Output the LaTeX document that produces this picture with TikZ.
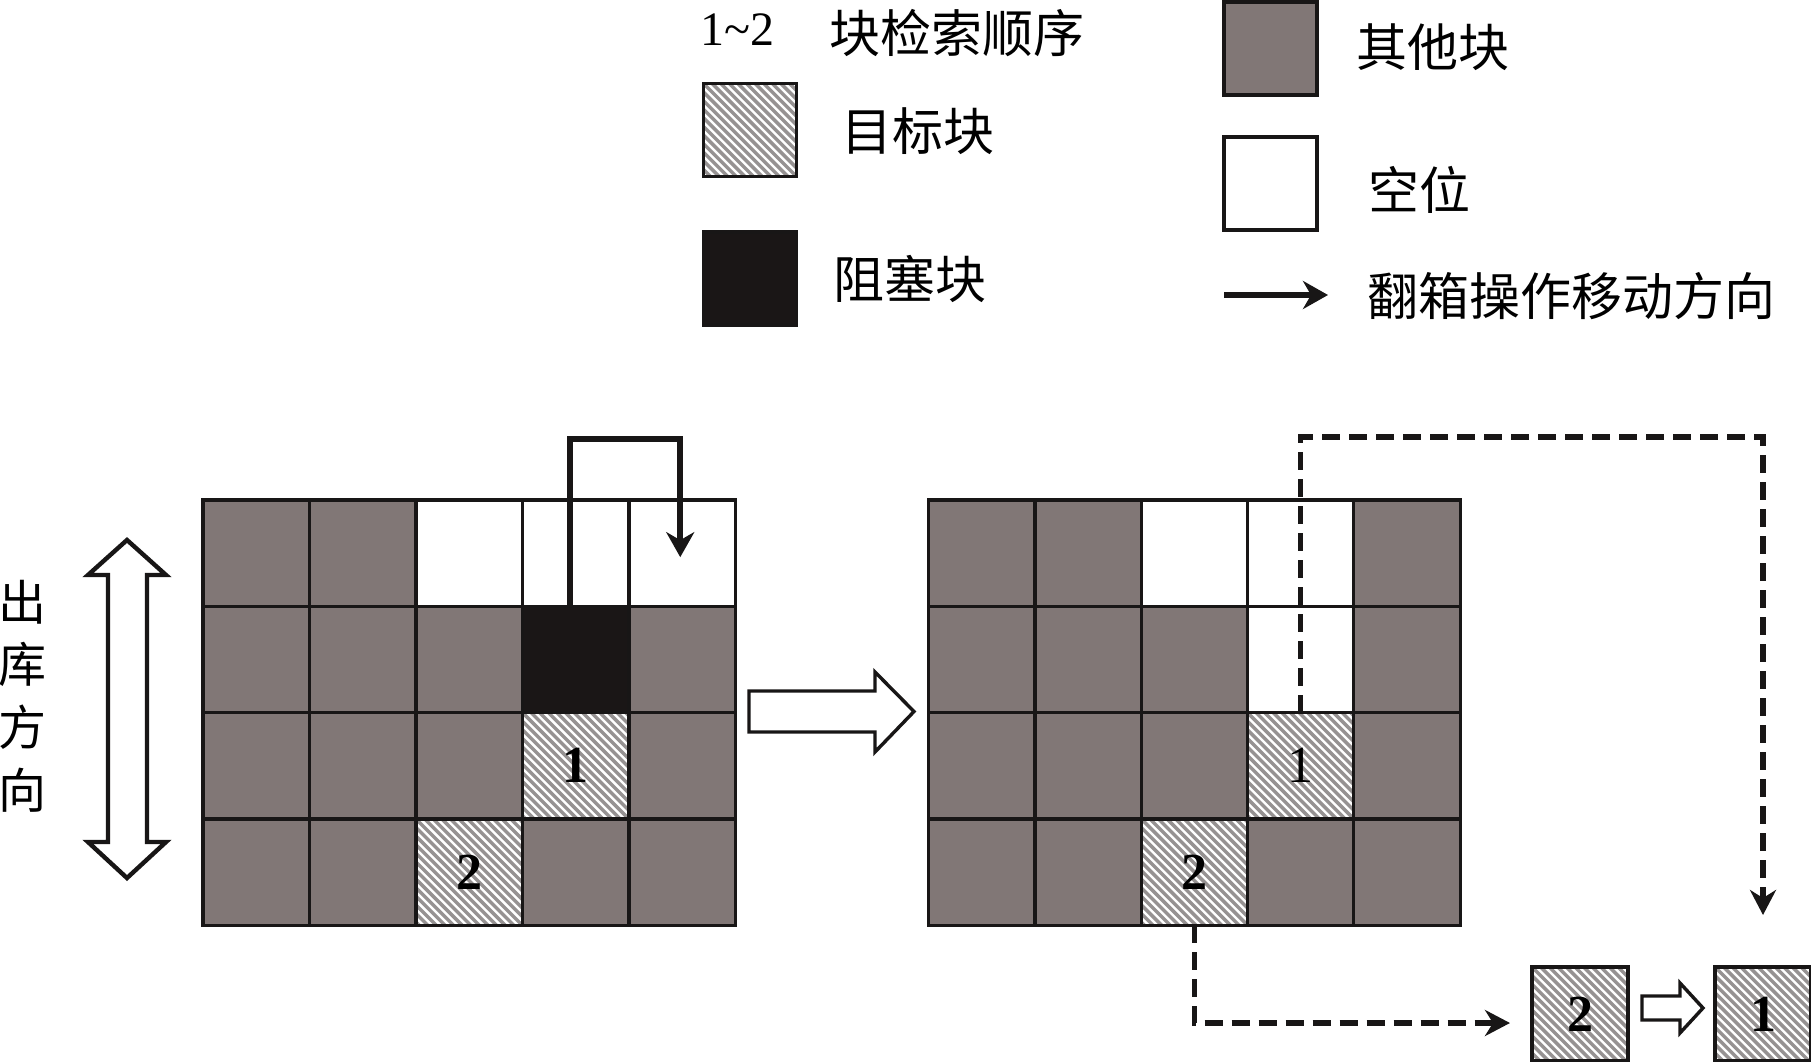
\documentclass[tikz,border=0pt]{standalone}
\usepackage{fontspec}
\setmainfont{Liberation Serif}
\newfontfamily\cjk{Noto Sans CJK SC}
\usetikzlibrary{arrows.meta,calc}
\definecolor{othergray}{RGB}{129,119,118}
\definecolor{blockblack}{RGB}{26,22,22}
\definecolor{linec}{RGB}{24,22,22}
\definecolor{hatchgray}{RGB}{150,146,146}
\begin{document}
\begin{tikzpicture}[x=0.5pt,y=-0.5pt,
 hatch/.style={path picture={\foreach \i in {-14,...,14}{\draw[hatchgray,line width=1.7pt] ([xshift=\i*4.3pt]path picture bounding box.north west) -- ++(70pt,-70pt);}}},
 cellbase/.style={draw=linec,line width=1.6pt,minimum width=53.25pt,minimum height=53.15pt,inner sep=0pt,outer sep=0pt},
 oc/.style={cellbase,fill=othergray},
 ec/.style={cellbase,fill=white},
 bc/.style={cellbase,fill=blockblack},
 tc/.style={cellbase,fill=white,hatch},
 legbox/.style={draw=linec,line width=1.7pt,minimum width=46.5pt,minimum height=46.5pt,inner sep=0pt,outer sep=0pt},
 smallbox/.style={draw=linec,line width=2.2pt,fill=white,hatch,minimum width=48pt,minimum height=47pt,inner sep=0pt,outer sep=0pt},
 digitb/.style={font=\fontsize{26}{26}\selectfont\bfseries,inner sep=0pt},
 digitr/.style={font=\fontsize{26}{26}\selectfont,inner sep=0pt},
 legtext/.style={font=\cjk\fontsize{25.5}{26}\selectfont,anchor=west,inner sep=0pt},
 moveline/.style={draw=linec,line width=2.8pt,line join=miter,-{Stealth[length=12.5pt,width=14pt,inset=4pt]}},
 dashline/.style={draw=linec,line width=2.6pt,dash pattern=on 9pt off 4.5pt,-{Stealth[length=12.5pt,width=13pt,inset=4pt]}},
 hollow/.style={draw=linec,line width=1.7pt,fill=white,line join=miter}
]
\useasboundingbox (0,0) rectangle (1811,1061);

% legend
\node[font=\fontsize{24}{24}\selectfont,anchor=west,inner sep=0pt] (lgN) at (700,30) {1\textasciitilde 2};
\node[legtext] (lgNt) at (829,33) {块检索顺序};
\node[legbox,fill=white,hatch] (lgT) at (750,130) {};
\node[legtext] (lgTt) at (841,131) {目标块};
\node[legbox,fill=blockblack] (lgB) at (750,278.5) {};
\node[legtext] (lgBt) at (833,279) {阻塞块};
\node[legbox,fill=othergray] (lgO) at (1270.5,48.5) {};
\node[legtext] (lgOt) at (1356,47) {其他块};
\node[legbox,fill=white] (lgE) at (1270.5,183.5) {};
\node[legtext] (lgEt) at (1368,190) {空位};
\coordinate (la1) at (1224,295);
\coordinate (la2) at (1328,295);
\draw[moveline] (la1) -- (la2);
\node[legtext] (lgAt) at (1367,296) {翻箱操作移动方向};

% left grid
\foreach \row [count=\r] in {{oc,oc,ec,ec,ec},{oc,oc,oc,bc,oc},{oc,oc,oc,tc,oc},{oc,oc,tc,oc,oc}}
  \foreach \t [count=\c] in \row
    \node[\t] (L\r\c) at ({203+(\c-0.5)*106.5},{500+(\r-0.5)*106.3}) {};
\node[digitb] (d1L) at (L34) {1};
\node[digitb] (d2L) at (L43) {2};

% right grid
\foreach \row [count=\r] in {{oc,oc,ec,ec,oc},{oc,oc,oc,ec,oc},{oc,oc,oc,tc,oc},{oc,oc,tc,oc,oc}}
  \foreach \t [count=\c] in \row
    \node[\t] (R\r\c) at ({929+(\c-0.5)*106.2},{500+(\r-0.5)*106.3}) {};
\node[digitr] (d1R) at (R34) {1};
\node[digitb] (d2R) at (R43) {2};

% direction label and double arrow
\node[font=\cjk\fontsize{24}{31.3}\selectfont,align=center,inner sep=0pt] (dirtext) at (22,696) {出\\库\\方\\向};
\draw[hollow,line width=2.2pt] (127,540) -- (166,575) -- (147,575) -- (147,842) -- (166,842) -- (127,878) -- (88,842) -- (108,842) -- (108,575) -- (88,575) -- cycle;

% big hollow arrow
\draw[hollow] (749,691) -- (875,691) -- (875,672) -- (914,711.5) -- (875,752) -- (875,732) -- (749,732) -- cycle;

% solid relocation arrow
\coordinate (topL) at (0,439);
\coordinate (a1) at ([xshift=-3pt]L24.north);
\coordinate (a4) at ([xshift=-1pt,yshift=-2pt]L15.center);
\draw[moveline] (a1) -- (a1 |- topL) -| (a4);

% small output boxes
\node[smallbox] (S2) at (1580,1014) {};
\node[digitb] (d2S) at (S2) {2};
\node[smallbox] (S1) at (1763,1014) {};
\node[digitb] (d1S) at (S1) {1};
\draw[hollow] (1642,996) -- (1680,996) -- (1680,983) -- (1703,1008) -- (1680,1033) -- (1680,1020) -- (1642,1020) -- cycle;

% dashed retrieval arrows
\coordinate (topR) at (0,437);
\draw[dashline] (R34.north) -- (R34.north |- topR) -| ([yshift=26pt]S1.north);
\draw[dashline] (R43.south) |- ([xshift=-11pt,yshift=-4.5pt]S2.west);
\end{tikzpicture}
\end{document}
